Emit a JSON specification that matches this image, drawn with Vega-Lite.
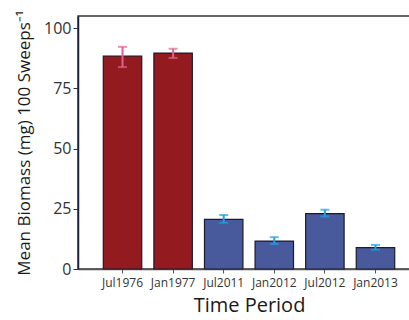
{
  "$schema": "https://vega.github.io/schema/vega-lite/v6.json",
  "autosize": {"type": "none"},
  "padding": {"left": 78, "top": 16, "right": 0, "bottom": 51},
  "width": 342,
  "height": 253,
  "background": "white",
  "config": {
    "view": {"stroke": "#333333", "strokeWidth": 1.5},
    "font": "Open Sans"
  },
  "data": {
    "values": [
      {"period": "Jul1976", "era": "historic", "mean": 88.4, "lo": 83.8, "hi": 92.2},
      {"period": "Jan1977", "era": "historic", "mean": 89.6, "lo": 87.6, "hi": 91.4},
      {"period": "Jul2011", "era": "modern", "mean": 20.6, "lo": 19.2, "hi": 22.4},
      {"period": "Jan2012", "era": "modern", "mean": 11.6, "lo": 10.4, "hi": 13.2},
      {"period": "Jul2012", "era": "modern", "mean": 23.0, "lo": 21.8, "hi": 24.6},
      {"period": "Jan2013", "era": "modern", "mean": 8.9, "lo": 8.0, "hi": 10.0}
    ]
  },
  "encoding": {
    "x": {
      "field": "period", "type": "nominal", "sort": null,
      "scale": {"paddingInner": 0.24, "paddingOuter": 0.5},
      "axis": {
        "title": "Time Period", "titleFontSize": 20, "titleFont": "Open Sans", "titleFontWeight": "normal",
        "titleColor": "#1a1a1a", "titlePadding": 7,
        "labelAngle": 0, "labelFontSize": 12, "labelColor": "#333333", "labelPadding": 4,
        "tickSize": 4, "tickColor": "#555555", "domainColor": "#555555", "domainWidth": 1.5
      }
    }
  },
  "layer": [
    {
      "mark": {"type": "bar", "stroke": "#1a1a2e", "strokeWidth": 1.2},
      "encoding": {
        "y": {
          "field": "mean", "type": "quantitative",
          "scale": {"domain": [0, 105], "nice": false},
          "axis": {
            "title": "Mean Biomass (mg) 100 Sweeps⁻¹", "titleFontSize": 17, "titleFontWeight": "normal",
            "titleColor": "#1a1a1a", "titlePadding": 10,
            "values": [0, 25, 50, 75, 100], "grid": false,
            "labelFontSize": 16, "labelColor": "#333333", "labelPadding": 2,
            "tickSize": 5, "tickColor": "#333333", "domainColor": "#1a2040", "domainWidth": 1.5
          }
        },
        "color": {
          "field": "era", "type": "nominal", "legend": null,
          "scale": {"domain": ["historic", "modern"], "range": ["#931b1f", "#48599c"]}
        }
      }
    },
    {
      "mark": {"type": "rule", "strokeWidth": 2},
      "encoding": {
        "y": {"field": "lo", "type": "quantitative"},
        "y2": {"field": "hi"},
        "color": {
          "field": "era", "type": "nominal", "legend": null,
          "scale": {"domain": ["historic", "modern"], "range": ["#e2608a", "#1f9fe6"]}
        }
      }
    },
    {
      "mark": {"type": "tick", "thickness": 2, "size": 9},
      "encoding": {
        "y": {"field": "lo", "type": "quantitative"},
        "color": {
          "field": "era", "type": "nominal", "legend": null,
          "scale": {"domain": ["historic", "modern"], "range": ["#e2608a", "#1f9fe6"]}
        }
      }
    },
    {
      "mark": {"type": "tick", "thickness": 2, "size": 9},
      "encoding": {
        "y": {"field": "hi", "type": "quantitative"},
        "color": {
          "field": "era", "type": "nominal", "legend": null,
          "scale": {"domain": ["historic", "modern"], "range": ["#e2608a", "#1f9fe6"]}
        }
      }
    }
  ],
  "resolve": {"scale": {"color": "independent"}}
}
